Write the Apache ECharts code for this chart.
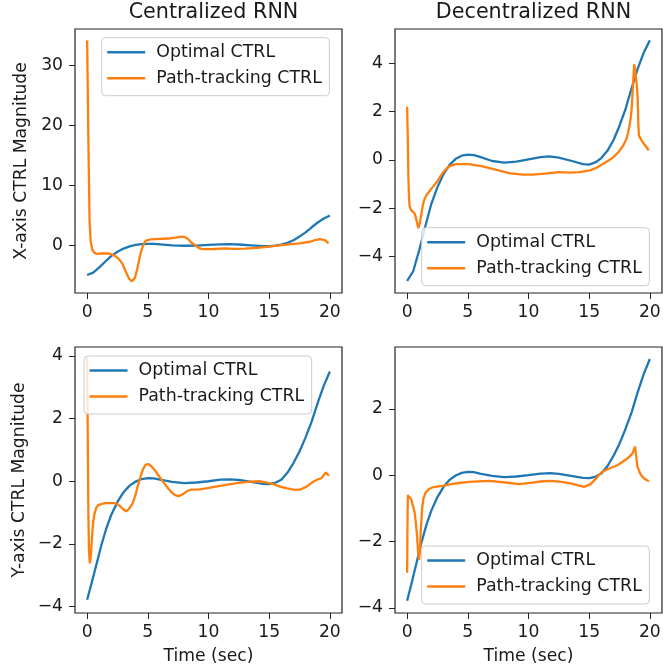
<!DOCTYPE html>
<html>
<head>
<meta charset="utf-8">
<script src="https://cdn.jsdelivr.net/npm/echarts@6/dist/echarts.min.js"></script>
<style>
  html, body { margin: 0; padding: 0; background: #fff; }
  #chart { width: 663px; height: 672px; }
</style>
</head>
<body>
<div id="chart"></div>
<script>
// Column titles and axis names
const colTitles = ['Centralized RNN', 'Decentralized RNN'];
const rowNames = ['X-axis CTRL Magnitude', 'Y-axis CTRL Magnitude'];
const timeName = 'Time (sec)';
const seriesNames = ['Optimal CTRL', 'Path-tracking CTRL'];

// Tick labels
const xTicks = [0, 5, 10, 15, 20];
const yTicksXCen = [0, 10, 20, 30];
const yTicksXDec = [-4, -2, 0, 2, 4];
const yTicksYCen = [-4, -2, 0, 2, 4];
const yTicksYDec = [-4, -2, 0, 2];

// Optimal control, X axis (same reference for both controllers)
const tOptX = [0, 0.5, 1, 1.5, 2, 2.5, 3, 3.5, 4, 4.5, 5, 5.5, 6, 7, 8, 9, 10, 11, 11.7, 12.5, 13.5, 14.5, 15, 15.5, 16, 16.5, 17, 17.5, 18, 18.5, 19, 19.5, 20];
const optX = [-5.0, -4.6, -3.72, -2.74, -1.8, -1.12, -0.58, -0.2, 0.05, 0.18, 0.22, 0.2, 0.13, -0.04, -0.11, -0.07, 0.03, 0.12, 0.15, 0.1, -0.03, -0.17, -0.19, -0.1, 0.08, 0.38, 0.82, 1.42, 2.12, 2.98, 3.78, 4.45, 4.95];

// Optimal control, Y axis
const tOptY = [0, 0.4, 0.8, 1.2, 1.6, 2, 2.5, 3, 3.5, 4, 4.5, 5, 5.5, 6, 7, 8, 9, 10, 11, 11.8, 12.5, 13.5, 14.5, 15, 15.5, 16, 16.5, 17, 17.5, 18, 18.5, 19, 19.5, 20];
const optY = [-3.78, -3.2, -2.6, -2.0, -1.48, -1.06, -0.66, -0.35, -0.14, -0.01, 0.07, 0.1, 0.09, 0.05, -0.02, -0.06, -0.04, 0.0, 0.05, 0.06, 0.04, -0.02, -0.08, -0.09, -0.05, 0.05, 0.27, 0.58, 0.95, 1.4, 1.9, 2.5, 3.05, 3.5];

// Path-tracking control, X axis, centralized RNN
const tPathXCen = [0, 0.1, 0.2, 0.3, 0.45, 0.6, 0.8, 1.2, 1.8, 2.3, 2.6, 2.9, 3.2, 3.45, 3.7, 3.95, 4.15, 4.4, 4.6, 4.8, 5.2, 5.6, 6.7, 7.4, 7.8, 8.1, 8.35, 8.6, 8.9, 9.2, 9.5, 10.5, 11.4, 12, 13, 14, 14.8, 16, 17.5, 18.35, 18.8, 19.17, 19.58, 19.9];
const pathXCen = [34.2, 18, 4, 0.5, -0.9, -1.3, -1.45, -1.4, -1.4, -1.8, -2.3, -3.1, -4.5, -5.6, -6.05, -5.4, -3.8, -1.4, -0.1, 0.7, 0.95, 1.0, 1.1, 1.3, 1.4, 1.3, 0.95, 0.4, 0.0, -0.5, -0.67, -0.65, -0.56, -0.62, -0.6, -0.45, -0.28, 0.0, 0.28, 0.56, 0.85, 1.0, 0.84, 0.28];

// Path-tracking control, X axis, decentralized RNN
const tPathXDec = [0, 0.05, 0.1, 0.15, 0.2, 0.3, 0.46, 0.6, 0.7, 0.8, 0.93, 1.05, 1.15, 1.3, 1.42, 1.6, 1.83, 2.1, 2.38, 2.65, 2.92, 3.2, 3.47, 4.0, 5.1, 6.2, 7.3, 8.4, 9.5, 10.4, 11.5, 12.5, 13.44, 14.2, 15.08, 15.6, 16.17, 16.6, 17.0, 17.4, 17.8, 18.05, 18.22, 18.4, 18.5, 18.6, 18.71, 18.8, 18.9, 18.99, 19.05, 19.1, 19.4, 19.7, 19.9];
const pathXDec = [2.2, 1.0, -0.6, -1.5, -1.9, -2.05, -2.11, -2.2, -2.35, -2.55, -2.82, -2.6, -2.3, -1.85, -1.63, -1.45, -1.29, -1.12, -0.95, -0.75, -0.54, -0.38, -0.26, -0.17, -0.17, -0.26, -0.4, -0.54, -0.6, -0.6, -0.55, -0.5, -0.52, -0.5, -0.43, -0.32, -0.15, -0.02, 0.12, 0.32, 0.6, 0.85, 1.15, 1.65, 2.11, 3.0, 3.96, 3.7, 3.2, 2.66, 1.5, 1.01, 0.74, 0.55, 0.4];

// Path-tracking control, Y axis, centralized RNN
const tPathYCen = [0, 0.05, 0.1, 0.15, 0.22, 0.3, 0.4, 0.5, 0.6, 0.75, 0.9, 1.2, 1.5, 2.24, 2.5, 2.79, 3.0, 3.2, 3.45, 3.75, 4.0, 4.16, 4.4, 4.6, 4.8, 5.03, 5.3, 5.66, 6.0, 6.34, 6.7, 7.03, 7.3, 7.58, 7.9, 8.2, 8.54, 9.3, 9.91, 11.28, 12.5, 13.42, 14.2, 14.8, 15.4, 15.88, 16.5, 17.0, 17.53, 18.08, 18.5, 18.9, 19.3, 19.5, 19.66, 19.8, 19.93];
const pathYCen = [3.95, 1.5, -1.0, -2.2, -2.62, -2.4, -1.8, -1.3, -1.05, -0.85, -0.77, -0.72, -0.7, -0.7, -0.73, -0.82, -0.9, -0.96, -0.88, -0.7, -0.42, -0.17, 0.15, 0.38, 0.52, 0.55, 0.48, 0.31, 0.12, -0.06, -0.24, -0.38, -0.45, -0.47, -0.41, -0.32, -0.27, -0.26, -0.22, -0.12, -0.05, -0.01, 0.0, -0.04, -0.1, -0.17, -0.23, -0.27, -0.27, -0.17, -0.05, 0.04, 0.1, 0.2, 0.28, 0.22, 0.18];

// Path-tracking control, Y axis, decentralized RNN
const tPathYDec = [0, 0.03, 0.06, 0.15, 0.34, 0.5, 0.62, 0.72, 0.81, 0.9, 0.98, 1.05, 1.12, 1.24, 1.35, 1.51, 1.75, 2.06, 2.89, 3.99, 5.09, 6.74, 8.11, 9.21, 10.17, 11.0, 11.82, 12.7, 13.47, 14.1, 14.57, 15.12, 15.68, 16.0, 16.5, 17.33, 18.15, 18.56, 18.7, 18.78, 18.88, 18.98, 19.2, 19.39, 19.65, 19.93];
const pathYDec = [-2.94, -1.5, -0.6, -0.56, -0.73, -0.95, -1.13, -1.45, -1.78, -2.3, -2.55, -2.3, -1.7, -0.98, -0.7, -0.53, -0.43, -0.37, -0.32, -0.25, -0.2, -0.17, -0.22, -0.27, -0.23, -0.19, -0.17, -0.2, -0.25, -0.31, -0.35, -0.27, -0.05, 0.08, 0.18, 0.3, 0.5, 0.65, 0.78, 0.86, 0.55, 0.25, 0.05, -0.05, -0.13, -0.18];

const FONT = 'DejaVu Sans';
const TEXT = '#1a1a1a';
const BLUE = '#1f77b4';
const ORANGE = '#ff7f0e';

const pairs = (t, v) => t.map((x, i) => [x, v[i]]);
const minus = v => String(v).replace('-', '\u2212');

// Panel layout: grid box, y range, y ticks, legend placement
const panels = [
  { left: 75,  top: 29,  width: 267, height: 264, yMin: -8.0, yMax: 36.1, yTicks: yTicksXCen,
    opt: [tOptX, optX], path: [tPathXCen, pathXCen], legend: [101.7, 37.7], yName: rowNames[0], nameGap: 45, xName: false },
  { left: 395, top: 29,  width: 267, height: 264, yMin: -5.5, yMax: 5.42, yTicks: yTicksXDec,
    opt: [tOptX, optX], path: [tPathXDec, pathXDec], legend: [421.7, 227.7], yName: '', nameGap: 0, xName: false },
  { left: 75,  top: 347, width: 267, height: 266, yMin: -4.2, yMax: 4.28, yTicks: yTicksYCen,
    opt: [tOptY, optY], path: [tPathYCen, pathYCen], legend: [84, 356], yName: rowNames[1], nameGap: 47, xName: true },
  { left: 395, top: 347, width: 267, height: 266, yMin: -4.15, yMax: 3.86, yTicks: yTicksYDec,
    opt: [tOptY, optY], path: [tPathYDec, pathYDec], legend: [421.7, 546], yName: '', nameGap: 0, xName: true }
];

const tickStyle = { show: true, inside: false, length: 6, lineStyle: { color: '#222', width: 1 } };
const labelStyle = { color: TEXT, fontFamily: FONT, fontSize: 17.2 };

const option = {
  animation: false,
  backgroundColor: '#fff',
  title: colTitles.map((txt, i) => ({
    text: txt,
    left: panels[i].left + panels[i].width / 2,
    top: -3,
    textAlign: 'center',
    textStyle: { color: TEXT, fontFamily: FONT, fontSize: 20.7, fontWeight: 'normal' }
  })),
  grid: panels.map(p => ({
    left: p.left, top: p.top, width: p.width, height: p.height,
    show: true, borderColor: '#222', borderWidth: 1.2, backgroundColor: 'transparent',
    containLabel: false, outerBoundsMode: 'none'
  })),
  xAxis: panels.map((p, i) => ({
    type: 'value', gridIndex: i, min: -1, max: 21,
    name: p.xName ? timeName : '', nameLocation: 'middle', nameGap: 35,
    nameTextStyle: { color: TEXT, fontFamily: FONT, fontSize: 17.2 },
    axisLine: { show: false, onZero: false },
    splitLine: { show: false },
    axisTick: Object.assign({ customValues: xTicks }, tickStyle),
    axisLabel: Object.assign({ customValues: xTicks, margin: 11, formatter: minus }, labelStyle)
  })),
  yAxis: panels.map((p, i) => ({
    type: 'value', gridIndex: i, min: p.yMin, max: p.yMax,
    name: p.yName, nameLocation: 'middle', nameGap: p.nameGap,
    nameTextStyle: { color: TEXT, fontFamily: FONT, fontSize: 17.2 },
    axisLine: { show: false, onZero: false },
    splitLine: { show: false },
    axisTick: Object.assign({ customValues: p.yTicks }, tickStyle),
    axisLabel: Object.assign({ customValues: p.yTicks, margin: 12, formatter: minus }, labelStyle)
  })),
  legend: panels.map(p => ({
    orient: 'vertical',
    left: p.legend[0], top: p.legend[1],
    data: seriesNames,
    selectedMode: false,
    icon: 'rect', itemWidth: 38, itemHeight: 2.5, itemGap: 6,
    padding: [4.5, 7.5, 7.5, 5.5],
    backgroundColor: 'rgba(255,255,255,0.8)',
    borderColor: '#cccccc', borderWidth: 1, borderRadius: 4,
    textStyle: { color: TEXT, fontFamily: FONT, fontSize: 17.4, lineHeight: 20, padding: [0, 0, 0, 6] },
    z: 10
  })),
  series: panels.flatMap((p, i) => [
    { name: seriesNames[0], type: 'line', xAxisIndex: i, yAxisIndex: i,
      data: pairs(p.opt[0], p.opt[1]), showSymbol: false, smooth: false,
      color: BLUE, lineStyle: { color: BLUE, width: 2.3 }, z: 2 },
    { name: seriesNames[1], type: 'line', xAxisIndex: i, yAxisIndex: i,
      data: pairs(p.path[0], p.path[1]), showSymbol: false, smooth: false,
      color: ORANGE, lineStyle: { color: ORANGE, width: 2.3 }, z: 3 }
  ])
};

echarts.init(document.getElementById('chart'), null, { renderer: 'canvas' }).setOption(option);
</script>
</body>
</html>
